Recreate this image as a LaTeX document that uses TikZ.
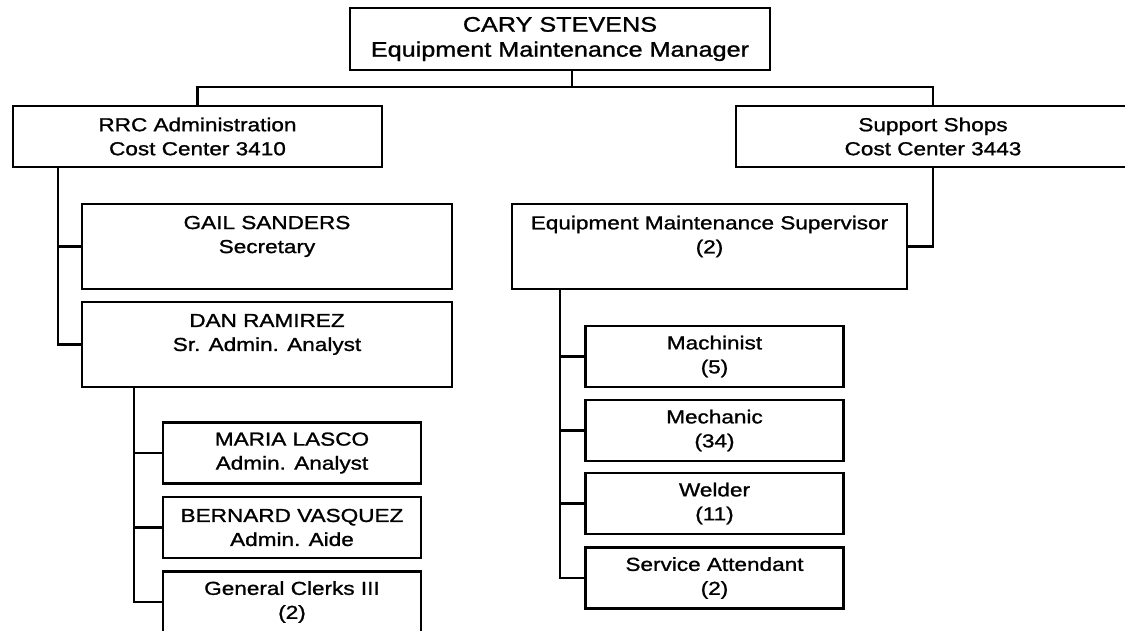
\documentclass[tikz,border=0pt]{standalone}
\usepackage{fontspec}
\setmainfont{Liberation Sans}[FakeStretch=1.2, FakeBold=1.2]
\usetikzlibrary{positioning}

\begin{document}
\begin{tikzpicture}[x=1pt, y=-1pt, node distance=74pt and 100pt, on grid, line width=2.2pt,
    every node/.style={font=\fontsize{18.8}{24}\selectfont, align=center, inner sep=0pt},
    unit/.style={draw, minimum height=61pt},
    headbox/.style={unit, minimum width=420pt, minimum height=62pt, font=\fontsize{21}{25}\selectfont},
    tallbox/.style={unit, minimum width=370pt, minimum height=85pt},
    smallbox/.style={unit, minimum width=258pt}]
\useasboundingbox (0,0) rectangle (1125,631);
\clip (0,0) rectangle (1125,631);
\node[headbox] (cary) at (560,39) {CARY STEVENS\\Equipment Maintenance Manager};
\node[unit, minimum width=369pt] (rrc) at (197.5,136.5) {RRC Administration\\Cost Center 3410};
\node[unit, minimum width=394pt, right=735.5pt of rrc] (shops) {Support Shops\\Cost Center 3443};
\node[tallbox, below right=110pt and 69.5pt of rrc] (gail) {GAIL SANDERS\\Secretary\\\mbox{}};
\node[tallbox, below=98pt of gail] (dan) {DAN RAMIREZ\\Sr. Admin. Analyst\\\mbox{}};
\node[tallbox, minimum width=395pt, right=442.5pt of gail] (super) {Equipment Maintenance Supervisor\\(2)\\\mbox{}};
\node[smallbox, below right=108.5pt and 25pt of dan] (maria) {MARIA LASCO\\Admin. Analyst};
\node[smallbox, below=74.5pt of maria] (bernard) {BERNARD VASQUEZ\\Admin. Aide};
\node[smallbox, below=74.5pt of bernard] (clerks) {General Clerks III\\(2)};
\node[smallbox, below right=110pt and 5pt of super] (machinist) {Machinist\\(5)};
\node[smallbox, below=74pt of machinist] (mechanic) {Mechanic\\(34)};
\node[smallbox, below=73pt of mechanic] (welder) {Welder\\(11)};
\node[smallbox, below=74.5pt of welder] (attendant) {Service Attendant\\(2)};

\coordinate (bus) at (572,87);
\draw (cary.south -| bus) -- (bus);
\draw (rrc.north) |- (bus) -| (shops.north);
\draw ([xshift=46pt]rrc.south west) |- (gail.west);
\draw ([xshift=46pt]rrc.south west) |- (dan.west);
\draw (shops.south) |- (super.east);
\draw ([xshift=53pt]dan.south west) |- (maria.west);
\draw ([xshift=53pt]dan.south west) |- (bernard.west);
\draw ([xshift=53pt]dan.south west) |- (clerks.west);
\draw ([xshift=49pt]super.south west) |- (machinist.west);
\draw ([xshift=49pt]super.south west) |- (mechanic.west);
\draw ([xshift=49pt]super.south west) |- (welder.west);
\draw ([xshift=49pt]super.south west) |- (attendant.west);
\end{tikzpicture}
\end{document}
